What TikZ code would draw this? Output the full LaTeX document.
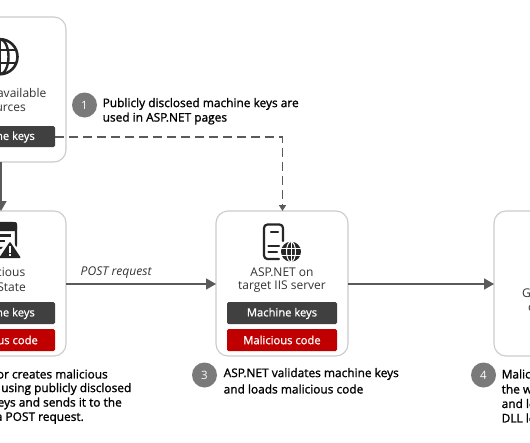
\documentclass[tikz,border=0pt]{standalone}
\usepackage{fontspec}
\setmainfont{Open Sans}
\usetikzlibrary{arrows.meta,calc}
\definecolor{ink}{HTML}{333333}
\definecolor{cardline}{HTML}{CBCBCB}
\definecolor{wire}{HTML}{5A5A5A}
\definecolor{keyfill}{HTML}{404040}
\definecolor{redfill}{HTML}{C00000}
\definecolor{badgefill}{HTML}{7A7A7A}
\tikzset{
 x=1pt,y=-1pt,
 card/.style={draw=cardline,line width=1.1pt,rounded corners=12pt,fill=white},
 keybar/.style={fill=keyfill,rounded corners=1.5pt,draw=none},
 redbar/.style={fill=redfill,rounded corners=1.5pt,draw=none},
 bartext/.style={text=white,font=\fontsize{11.2}{14}\selectfont\addfontfeatures{FakeBold=1},inner sep=0},
 cardtext/.style={text=ink,font=\fontsize{12}{15}\selectfont,inner sep=0,align=center},
 head/.style={text=black,font=\fontsize{11.9}{15}\selectfont\addfontfeatures{FakeBold=1.3},inner sep=0},
 badge/.style={circle,fill=badgefill,text=white,minimum size=25pt,inner sep=0,font=\fontsize{11.5}{14}\selectfont},
 wirearrow/.style={draw=wire,line width=1.6pt,-{Triangle[length=10pt,width=11pt]}},
 icon/.style={draw=black!85,line width=2.2pt,line join=round,line cap=round},
}
\begin{document}
\begin{tikzpicture}
\clip (0,0) rectangle (530,442);
\fill[white] (0,0) rectangle (530,442);
% cards
\draw[card] (-67,17) rectangle (66,162);
\draw[card] (-67,211) rectangle (66,356);
\draw[card] (216,211) rectangle (348,356);
\draw[card] (494,211) rectangle (640,356);
\coordinate (c1) at (66,284);\coordinate (m1) at (216,284);
\coordinate (m2) at (348,284);\coordinate (r1) at (494,284);
% connectors
\coordinate (d0) at (55,137);\coordinate (d1) at (282.5,137);\coordinate (d2) at (282.5,211);
\coordinate (v0) at (1,162);\coordinate (v1) at (1,211);
\draw[wire,line width=1.5pt,dash pattern=on 9pt off 5pt,-{Triangle[length=6pt,width=7pt]}] (d0) -- (d1) -- (d2);
\draw[wirearrow] (v0) -- (v1);
\draw[wirearrow] (c1) -- (m1);
\draw[wirearrow] (m2) -- (r1);
\node[anchor=west,text=ink,font=\fontsize{12.1}{14}\selectfont\itshape,inner sep=0] (post) at (80.5,273) {POST request};
% bars
\fill[keybar] (-55,126) rectangle (55,147);
\node[bartext,anchor=east] (k1) at (35,137) {ne keys};
\fill[keybar] (-55,302) rectangle (55,324);
\node[bartext,anchor=east] (k2) at (35,313.5) {ne keys};
\fill[redbar] (-55,329) rectangle (55,351);
\node[bartext,anchor=east] (r2) at (38,340) {us code};
\fill[keybar] (227,302) rectangle (337,324);
\node[bartext] (k3) at (282,313.5) {Machine keys};
\fill[redbar] (227,329) rectangle (337,351);
\node[bartext] (r3) at (282,340) {Malicious code};
% card texts
\node[cardtext,anchor=east] (t1) at (46.5,93) {available};
\node[cardtext,anchor=east] (t2) at (26,108) {urces};
\node[cardtext,anchor=east] (t3) at (25.5,272) {icious};
\node[cardtext,anchor=east] (t4) at (26,287) {State};
\node[cardtext] (t5) at (282,272) {ASP.NET on};
\node[cardtext] (t6) at (282,287) {target IIS server};
\node[cardtext,anchor=west] (t7) at (522,293) {G};
\node[cardtext,anchor=west] (t8) at (528,308) {c};
% badges
\node[badge] (b1) at (84.5,105) {1};
\node[badge] (b3) at (204.5,375) {3};
\node[badge] (b4) at (483.5,375) {4};
% headings
\node[head,anchor=west] (h1a) at (102.5,104) {Publicly disclosed machine keys are};
\node[head,anchor=west] (h1b) at (102.5,118.5) {used in ASP.NET pages};
\node[head,anchor=east] (h2a) at (108,374) {or creates malicious};
\node[head,anchor=east] (h2b) at (131.5,389) {using publicly disclosed};
\node[head,anchor=east] (h2c) at (122,403.5) {eys and sends it to the};
\node[head,anchor=east] (h2d) at (84,418) {a POST request.};
\node[head,anchor=west] (h3a) at (223.5,374) {ASP.NET validates machine keys};
\node[head,anchor=west] (h3b) at (223.5,389) {and loads malicious code};
\node[head,anchor=west] (h4a) at (501.5,374) {Malic};
\node[head,anchor=west] (h4b) at (501.5,389) {the w};
\node[head,anchor=west] (h4c) at (501.5,403.5) {and lo};
\node[head,anchor=west] (h4d) at (501.5,418) {DLL lo};
% globe icon
\begin{scope}[shift={(0,56.7)}]
\draw[icon,line width=2.6pt] (0,0) circle (17.5);
\draw[icon,line width=2.4pt] (0,0) ellipse (8.5 and 17.5);
\draw[icon,line width=2.4pt] (-16,-6.5) -- (16,-6.5);
\draw[icon,line width=2.4pt] (-16,6.5) -- (16,6.5);
\draw[icon,line width=2.4pt] (0,-17) -- (0,17);
\end{scope}
% document with warning icon
\draw[icon,rounded corners=3pt] (-16,223) rectangle (16,248);
\fill[black!85,rounded corners=2pt] (-17,222) rectangle (17,231);
\draw[black!85,line width=2.2pt] (-14,235.5) -- (11,235.5);
\draw[black!85,line width=2.2pt] (-14,241) -- (5,241);
\fill[white] (10,238) -- (26,261) -- (-8,261) -- cycle;
\fill[black!85,rounded corners=1pt] (10,241.5) -- (21,258) -- (-1,258) -- cycle;
\fill[white] (9.1,245.5) rectangle (11,252.5);
\fill[white] (9.1,254) rectangle (11,256);
% server + globe icon
\draw[icon,rounded corners=3.5pt] (279,259) -- (264,259) -- (264,224.5) -- (283,224.5) -- (283,241);
\draw[icon] (271,232) -- (278,232);
\draw[icon] (268.5,246) -- (279,246);
\draw[icon] (268.5,252) -- (277,252);
\begin{scope}[shift={(291,251.7)}]
\fill[white] (0,0) circle (11.5);
\fill[black!85] (0,0) circle (10);
\draw[white,line width=1pt] (0,0) ellipse (4.5 and 10);
\draw[white,line width=1pt] (-10,-3.3) -- (10,-3.3);
\draw[white,line width=1pt] (-10,3.3) -- (10,3.3);
\draw[white,line width=1pt] (0,-10) -- (0,10);
\end{scope}
\end{tikzpicture}
\end{document}
